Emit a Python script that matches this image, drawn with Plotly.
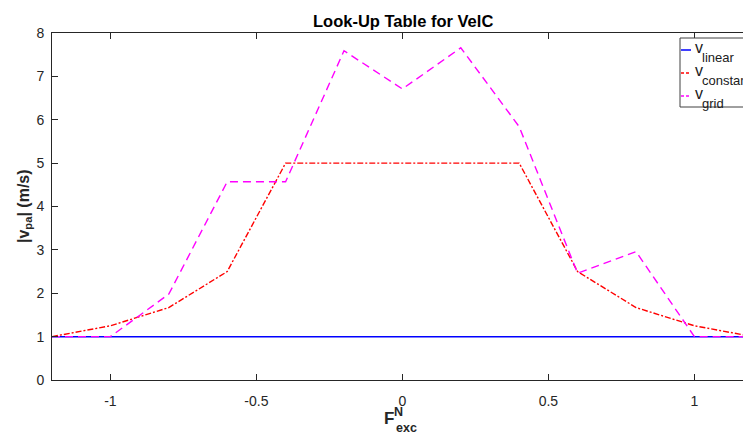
import plotly.graph_objects as go

# ---- data ----
x_vals = [-1.2, -1.0, -0.8, -0.6, -0.4, -0.2, 0.0, 0.2, 0.4, 0.6, 0.8, 1.0, 1.2]
v_linear = [1, 1, 1, 1, 1, 1, 1, 1, 1, 1, 1, 1, 1]
v_constant = [1.0, 1.25, 1.67, 2.5, 5.0, 5.0, 5.0, 5.0, 5.0, 2.5, 1.67, 1.25, 1.0]
v_grid = [1.0, 1.0, 1.98, 4.57, 4.57, 7.59, 6.71, 7.66, 5.84, 2.46, 2.96, 1.0, 1.0]
x_ticks = [-1, -0.5, 0, 0.5, 1]
x_tick_text = ["-1", "-0.5", "0", "0.5", "1"]
y_ticks = [0, 1, 2, 3, 4, 5, 6, 7, 8]
legend_names = ["linear", "constant", "grid"]

W, H = 743, 434
L, R, T, B = 52, 0, 33, 54
PW, PH = W - L - R, H - T - B
FONT = "Liberation Sans, Arial, sans-serif"
AX = "#262626"


def px(xp):
    return (xp - L) / PW


def py(yp):
    return (H - B - yp) / PH


styles = [
    dict(color="#0000ff", width=1.5, dash="solid"),
    dict(color="#ff0000", width=1.4, dash="6px,2px,2px,2px"),
    dict(color="#ff00ff", width=1.4, dash="8px,5px"),
]

fig = go.Figure()
for name, ys, st in zip(legend_names, [v_linear, v_constant, v_grid], styles):
    fig.add_trace(go.Scatter(x=x_vals, y=ys, mode="lines", name="v" + name,
                             line=st, showlegend=False))

# xrange so that the plot is cropped at the right like the reference
unit = (694 - 110) / 2.0
x_right = -1.2 + PW / unit

fig.update_layout(
    width=W, height=H,
    margin=dict(l=L, r=R, t=T, b=B),
    paper_bgcolor="white", plot_bgcolor="white",
    font=dict(family=FONT, size=14, color=AX),
    xaxis=dict(range=[-1.2, x_right], tickvals=x_ticks, ticktext=x_tick_text,
               ticks="inside", ticklen=6, tickcolor=AX, showline=True, linecolor=AX,
               linewidth=1, mirror="ticks", showgrid=False, zeroline=False,
               ticklabelstandoff=8, tickfont=dict(size=14, color=AX)),
    yaxis=dict(range=[0, 8], tickvals=y_ticks, ticks="inside", ticklen=6,
               tickcolor=AX, showline=True, linecolor=AX, linewidth=1,
               mirror=False, showgrid=False, zeroline=False,
               ticklabelstandoff=4, tickfont=dict(size=14, color=AX)),
)

ann = []
# title
ann.append(dict(text="<b>Look-Up Table for VelC</b>", x=px(403), y=py(21),
                font=dict(size=16.5, color="black")))
# y label
ann.append(dict(text="<b>|v<sub>pa</sub>| (m/s)</b>", x=px(24), y=py(206),
                textangle=-90, font=dict(size=16, color=AX)))
# x label F^N_exc
ann.append(dict(text="<b>F</b>", x=px(389), y=py(418), font=dict(size=17, color=AX)))
ann.append(dict(text="<b>N</b>", x=px(398.5), y=py(412), font=dict(size=12.5, color=AX)))
ann.append(dict(text="<b>exc</b>", x=px(406.5), y=py(428), font=dict(size=12.5, color=AX)))

# custom legend
shapes = [dict(type="rect", xref="paper", yref="paper", x0=px(680), x1=px(760),
               y0=py(107), y1=py(38), line=dict(color="#404040", width=1),
               fillcolor="white", layer="above")]
rows = [50, 73, 96]
for name, st, yr in zip(legend_names, styles, rows):
    shapes.append(dict(type="line", xref="paper", yref="paper", x0=px(681), x1=px(691),
                       y0=py(yr), y1=py(yr), layer="above",
                       line=dict(color=st["color"], width=1.5,
                                 dash="solid" if st["dash"] == "solid" else "3px,2px")))
    ann.append(dict(text="v", x=px(693), y=py(yr - 3), xanchor="left",
                    font=dict(size=16, color="#202020")))
    ann.append(dict(text=name, x=px(700), y=py(yr + 7), xanchor="left",
                    font=dict(size=13, color="#202020")))

for a in ann:
    a.setdefault("xref", "paper")
    a.setdefault("yref", "paper")
    a.setdefault("showarrow", False)
    a.setdefault("xanchor", "center")
    a.setdefault("yanchor", "middle")
    a["font"]["family"] = FONT

fig.update_layout(annotations=ann, shapes=shapes)
fig.write_html("out.html")
